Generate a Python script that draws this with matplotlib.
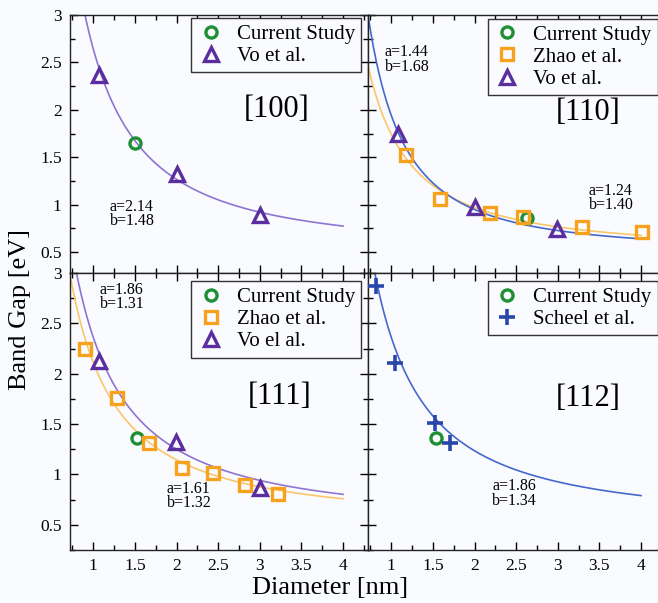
import numpy as np
import matplotlib
matplotlib.use('Agg')
import matplotlib.pyplot as plt
from matplotlib.ticker import MultipleLocator, FixedLocator, FixedFormatter

plt.rcParams['font.family'] = ['Liberation Serif', 'DejaVu Serif']
plt.rcParams['mathtext.fontset'] = 'stix'

# ---- data ----
# [100]
cur_100 = ([1.5], [1.65])
vo_100 = ([1.07, 2.0, 3.0], [2.37, 1.32, 0.89])
# [110]
cur_110 = ([2.63], [0.86])
zhao_110 = ([1.18, 1.585, 2.19, 2.58, 3.29, 4.01], [1.52, 1.06, 0.91, 0.87, 0.77, 0.71])
vo_110 = ([1.08, 2.0, 2.99], [1.75, 0.98, 0.74])
# [111]
cur_111 = ([1.52], [1.36])
zhao_111 = ([0.895, 1.28, 1.67, 2.06, 2.44, 2.82, 3.22], [2.25, 1.76, 1.31, 1.06, 1.01, 0.90, 0.81])
vo_111 = ([1.07, 1.99, 3.0], [2.13, 1.32, 0.87])
# [112]
cur_112 = ([1.54], [1.36])
scheel_112 = ([0.82, 1.04, 1.53, 1.70], [2.87, 2.11, 1.51, 1.31])

# fit parameters shown on the chart: Eg = E0 + a / d^b
E0 = 0.5
fit_100 = (2.14, 1.48)
fit_110_vo = (1.44, 1.68)
fit_110_zhao = (1.24, 1.40)
fit_111_vo = (1.86, 1.31)
fit_111_zhao = (1.61, 1.32)
fit_112 = (1.86, 1.34)

green = '#1f8f35'
purple = '#5a2e9e'
purple_l = '#8f74d2'
orange = '#f6a21e'
orange_l = '#fbc66a'
blue = '#2947aa'
blue_l = '#4468cc'
bg = '#fafbfe'

W, H = 658, 603
fig = plt.figure(figsize=(W / 100, H / 100), dpi=100, facecolor=bg)

def px(x0, y0, x1, y1):
    return [x0 / W, 1 - y1 / H, (x1 - x0) / W, (y1 - y0) / H]

ax_tl = fig.add_axes(px(70, 15, 368, 273))
ax_tr = fig.add_axes(px(368, 15, 666, 273))
ax_bl = fig.add_axes(px(70, 273, 368, 550))
ax_br = fig.add_axes(px(368, 273, 666, 550))

d = np.linspace(0.72, 4.0, 300)

def fit_line(ax, p, col):
    a, b = p
    ax.plot(d, E0 + a / d ** b, color=col, lw=1.2, zorder=2)

def mk(ax, data, m, col, label, ms, mew=2.4):
    ax.plot(data[0], data[1], ls='none', marker=m, mfc='none', mec=col,
            ms=ms, mew=mew, label=label, zorder=3)

for ax in (ax_tl, ax_tr, ax_bl, ax_br):
    ax.set_facecolor(bg)
    ax.set_xlim(0.72, 4.3)
    ax.xaxis.set_major_locator(MultipleLocator(0.5))
    ax.xaxis.set_minor_locator(MultipleLocator(0.25))
    ax.yaxis.set_major_locator(MultipleLocator(0.5))
    ax.yaxis.set_minor_locator(MultipleLocator(0.25))
    ax.tick_params(which='both', direction='in', top=True, right=True, labelsize=12.5, pad=6)
    ax.tick_params(which='major', length=6, width=1)
    ax.tick_params(which='minor', length=3.5, width=1)
    for s in ax.spines.values():
        s.set_linewidth(1.0)
        s.set_color('#222222')

ax_tl.set_ylim(0.28, 3)
ax_tr.set_ylim(0.28, 3)
ax_bl.set_ylim(0.25, 3)
ax_br.set_ylim(0.25, 3)

yt = [0.5, 1, 1.5, 2, 2.5, 3]
ytl = ['0.5', '1', '1.5', '2', '2.5', '3']
xt = [1, 1.5, 2, 2.5, 3, 3.5, 4]
xtl = ['1', '1.5', '2', '2.5', '3', '3.5', '4']
for ax in (ax_tl, ax_bl):
    ax.yaxis.set_major_locator(FixedLocator(yt))
    ax.yaxis.set_major_formatter(FixedFormatter(ytl))
for ax in (ax_tr, ax_br):
    ax.tick_params(labelleft=False)
for ax in (ax_tl, ax_tr):
    ax.tick_params(labelbottom=False)
for ax in (ax_bl, ax_br):
    ax.xaxis.set_major_locator(FixedLocator(xt))
    ax.xaxis.set_major_formatter(FixedFormatter(xtl))

# [100]
fit_line(ax_tl, fit_100, purple_l)
mk(ax_tl, cur_100, 'o', green, 'Current Study', 8)
mk(ax_tl, vo_100, '^', purple, 'Vo et al.', 9.5)
ax_tl.text(3.2, 2.0, '[100]', fontsize=22, ha='center', va='center')
ax_tl.text(1.2, 0.9, 'a=2.14\nb=1.48', fontsize=11.5, ha='left', va='center', linespacing=0.85)

# [110]
fit_line(ax_tr, fit_110_zhao, orange_l)
fit_line(ax_tr, fit_110_vo, blue_l)
mk(ax_tr, cur_110, 'o', green, 'Current Study', 8)
mk(ax_tr, zhao_110, 's', orange, 'Zhao et al.', 9)
mk(ax_tr, vo_110, '^', purple, 'Vo et al.', 9.5)
ax_tr.text(3.37, 1.97, '[110]', fontsize=22, ha='center', va='center')
ax_tr.text(0.92, 2.53, 'a=1.44\nb=1.68', fontsize=11.5, ha='left', va='center', linespacing=0.85)
ax_tr.text(3.37, 1.07, 'a=1.24\nb=1.40', fontsize=11.5, ha='left', va='center', linespacing=0.85)

# [111]
fit_line(ax_bl, fit_111_zhao, orange_l)
fit_line(ax_bl, fit_111_vo, purple_l)
mk(ax_bl, cur_111, 'o', green, 'Current Study', 8)
mk(ax_bl, zhao_111, 's', orange, 'Zhao et al.', 9)
mk(ax_bl, vo_111, '^', purple, 'Vo el al.', 9.5)
ax_bl.text(3.24, 1.77, '[111]', fontsize=22, ha='center', va='center')
ax_bl.text(1.08, 2.76, 'a=1.86\nb=1.31', fontsize=11.5, ha='left', va='center', linespacing=0.85)
ax_bl.text(1.88, 0.79, 'a=1.61\nb=1.32', fontsize=11.5, ha='left', va='center', linespacing=0.85)

# [112]
fit_line(ax_br, fit_112, blue_l)
mk(ax_br, cur_112, 'o', green, 'Current Study', 8)
mk(ax_br, scheel_112, '+', blue, 'Scheel et al.', 12, 2.6)
ax_br.text(3.37, 1.75, '[112]', fontsize=22, ha='center', va='center')
ax_br.text(2.21, 0.81, 'a=1.86\nb=1.34', fontsize=11.5, ha='left', va='center', linespacing=0.85)

for ax, anchor in ((ax_tl, (0.977, 0.988)), (ax_tr, (0.973, 0.985)),
                   (ax_bl, (0.977, 0.97)), (ax_br, (0.973, 0.97))):
    leg = ax.legend(loc='upper right', bbox_to_anchor=anchor, borderaxespad=0,
                    fontsize=15, frameon=True, fancybox=False, handletextpad=0.6,
                    labelspacing=0.12, borderpad=0.3, handlelength=1.3)
    leg.get_frame().set_edgecolor('#333333')
    leg.get_frame().set_linewidth(1.0)
    leg.get_frame().set_facecolor(bg)
    leg.get_frame().set_alpha(1)

fig.text(20 / W, 1 - 310 / H, 'Band Gap [eV]', rotation=90, fontsize=19,
         ha='center', va='center')
fig.text(330 / W, 1 - 588 / H, 'Diameter [nm]', fontsize=19, ha='center', va='center')

fig.savefig('out.png', dpi=100, facecolor=bg)
